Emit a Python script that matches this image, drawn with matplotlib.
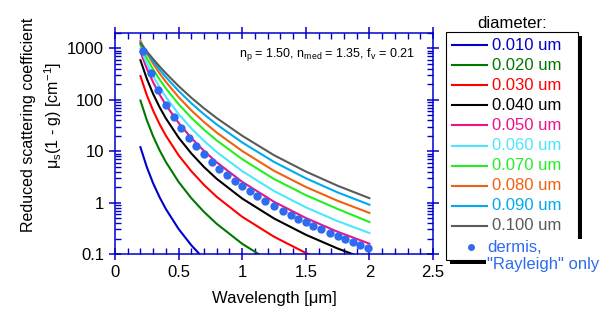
import matplotlib as mpl
mpl.use('Agg')
import matplotlib.pyplot as plt
from matplotlib import ticker
from matplotlib.lines import Line2D
from matplotlib.patches import Rectangle
import numpy as np

plt.rcParams['font.family'] = ['Liberation Sans', 'DejaVu Sans']
plt.rcParams['mathtext.fontset'] = 'custom'
plt.rcParams['mathtext.rm'] = 'Liberation Sans'
plt.rcParams['mathtext.it'] = 'Liberation Sans'
plt.rcParams['mathtext.default'] = 'regular'

# wavelength grid [um]
lam = [0.2, 0.25, 0.3, 0.35, 0.4, 0.5, 0.6, 0.7, 0.8, 1.0, 1.25, 1.5, 1.75, 2.0]

# reduced scattering mu_s(1-g) [1/cm] for each particle diameter
mus_010 = [12.0, 4.92, 2.37, 1.28, 0.75, 0.307, 0.148, 0.080, 0.047, 0.0192, 0.0079, 0.0038, 0.0021, 0.0012]
mus_020 = [97, 40.4, 19.5, 10.5, 6.17, 2.53, 1.22, 0.658, 0.386, 0.158, 0.0647, 0.0312, 0.0168, 0.0099]
mus_030 = [290, 123.5, 61.5, 33.7, 20.1, 8.35, 4.09, 2.21, 1.294, 0.53, 0.217, 0.1047, 0.0565, 0.0331]
mus_040 = [590, 258, 130, 72.4, 43.6, 18.4, 9.07, 4.92, 2.90, 1.2, 0.492, 0.237, 0.128, 0.075]
mus_050 = [860, 408, 219, 128, 79.7, 35.6, 18.1, 10.1, 6.07, 2.54, 1.04, 0.502, 0.271, 0.159]
mus_060 = [1000, 512, 290, 177, 114, 53, 27.8, 15.9, 9.64, 4.1, 1.68, 0.81, 0.437, 0.256]
mus_070 = [1150, 646, 391, 250, 167, 82.4, 44.8, 26.2, 16.2, 7.0, 2.88, 1.40, 0.753, 0.42]
mus_080 = [1400, 813, 505, 330, 224, 113, 62.4, 36.9, 23.0, 10.1, 4.16, 2.02, 1.086, 0.63]
mus_090 = [1300, 841, 565, 391, 277, 149, 85.9, 52.2, 33.1, 14.8, 6.20, 2.98, 1.58, 0.91]
mus_100 = [1250, 875, 622, 449, 329, 185, 110, 68.4, 44.1, 20, 8.37, 4.03, 2.13, 1.22]

labels = ['0.010 um', '0.020 um', '0.030 um', '0.040 um', '0.050 um',
          '0.060 um', '0.070 um', '0.080 um', '0.090 um', '0.100 um']
colors = ['#0000C8', '#007800', '#FF0000', '#000000', '#EE1188',
          '#4CE6FF', '#22EE22', '#F06010', '#00AAEE', '#5A5A5A']
series = [mus_010, mus_020, mus_030, mus_040, mus_050,
          mus_060, mus_070, mus_080, mus_090, mus_100]

# dermis, Rayleigh part only
lam_dermis = [0.22, 0.28, 0.34, 0.40, 0.46, 0.52, 0.58, 0.64, 0.70, 0.76,
              0.82, 0.88, 0.94, 1.00, 1.06, 1.12, 1.18, 1.25, 1.32, 1.38,
              1.44, 1.50, 1.56, 1.62, 1.69, 1.75, 1.81, 1.87, 1.93, 1.99]
mus_dermis = [888, 338, 156, 81, 46.4, 28.4, 18.4, 12.4, 8.66, 6.23,
              4.60, 3.47, 2.66, 2.08, 1.65, 1.32, 1.07, 0.85, 0.685, 0.573,
              0.484, 0.411, 0.351, 0.302, 0.255, 0.221, 0.193, 0.170, 0.150, 0.133]
dermis_color = '#2E6BF0'

axis_blue = '#0000CC'
W, H = 612.0, 326.0

def fx(px):
    return px / W

def fy(py):
    return 1 - py / H

fig = plt.figure(figsize=(6.12, 3.26), dpi=100)
ax = fig.add_axes([fx(115), fy(254), (433 - 115) / W, (254 - 33) / H])

for vals, c in zip(series, colors):
    ax.plot(lam, vals, '-', color=c, linewidth=1.5)
ax.plot(lam_dermis, mus_dermis, 'o', color=dermis_color, markersize=6,
        markeredgewidth=0, zorder=5)

ax.set_yscale('log')
ax.set_xlim(0, 2.5)
ax.set_ylim(0.1, 2000)
ax.set_xticks([0, 0.5, 1, 1.5, 2, 2.5])
ax.set_xticklabels(['0', '0.5', '1', '1.5', '2', '2.5'])
ax.xaxis.set_minor_locator(ticker.MultipleLocator(0.1))
ax.set_yticks([0.1, 1, 10, 100, 1000])
ax.set_yticklabels(['0.1', '1', '10', '100', '1000'])
ax.yaxis.set_minor_locator(ticker.LogLocator(base=10, subs=np.arange(2, 10), numticks=30))
ax.yaxis.set_minor_formatter(ticker.NullFormatter())

for s in ax.spines.values():
    s.set_color(axis_blue)
    s.set_linewidth(1.1)
ax.tick_params(which='major', direction='inout', length=8, width=1.1,
               color=axis_blue, top=True, right=True, labelsize=12, pad=4)
ax.tick_params(which='minor', direction='in', length=4, width=1,
               color=axis_blue, top=True, right=True)

ax.set_xlabel('Wavelength [\u03bcm]', fontsize=12, labelpad=8)

fig.text(fx(29), fy(125), 'Reduced scattering coefficient', rotation=90,
         ha='center', va='center', fontsize=11.5)
fig.text(fx(53), fy(115), '\u03bc$_s$(1 - g) [cm$^{-1}$]', rotation=90,
         ha='center', va='center', fontsize=11.5)

ax.text(0.39, 0.89, r'$n_p$ = 1.50, $n_{med}$ = 1.35, $f_v$ = 0.21',
        transform=ax.transAxes, ha='left', va='baseline', fontsize=9)

# legend box with drop shadow
bx0, bx1, by0, by1 = 446, 578, 32, 260
fig.add_artist(Rectangle((fx(bx0 + 4), fy(by1 + 4)), (bx1 - bx0) / W, (by1 - by0) / H,
                         transform=fig.transFigure, facecolor='black', edgecolor='none', zorder=3))
fig.add_artist(Rectangle((fx(bx0), fy(by1)), (bx1 - bx0) / W, (by1 - by0) / H,
                         transform=fig.transFigure, facecolor='white', edgecolor='black',
                         linewidth=0.8, zorder=4))
fig.text(fx(512), fy(23), 'diameter:', ha='center', va='center', fontsize=12)

for i, (lab, c) in enumerate(zip(labels, colors)):
    y = 45 + 20.1 * i
    fig.add_artist(Line2D([fx(452), fx(487)], [fy(y), fy(y)], color=c, linewidth=1.5,
                          transform=fig.transFigure, zorder=5))
    fig.text(fx(492), fy(y), lab, color=c, ha='left', va='center', fontsize=12, zorder=5)

fig.add_artist(Line2D([fx(471)], [fy(247)], marker='o', color=dermis_color, markersize=5,
                      markeredgewidth=0, linestyle='none', transform=fig.transFigure, zorder=5))
fig.text(fx(487), fy(256), 'dermis,\n"Rayleigh" only', color=dermis_color, ha='left',
         va='center', fontsize=12, linespacing=1.1, zorder=5,
         bbox=dict(facecolor='white', edgecolor='none', pad=1))

fig.savefig('out.png', dpi=100)
